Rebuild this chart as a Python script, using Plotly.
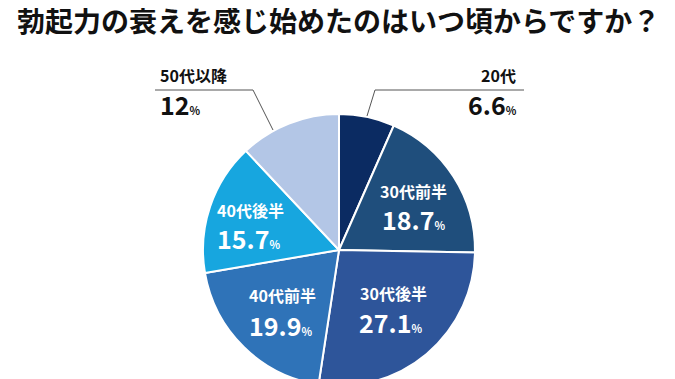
import plotly.graph_objects as go

title_text = "勃起力の衰えを感じ始めたのはいつ頃からですか？"
labels = ["20代", "30代前半", "30代後半", "40代前半", "40代後半", "50代以降"]
values = [6.6, 18.7, 27.1, 19.9, 15.7, 12]
value_text = ["6.6", "18.7", "27.1", "19.9", "15.7", "12"]
colors = ["#0b2b62", "#1f4e7c", "#2e559a", "#2f73b8", "#17a6df", "#b3c6e6"]

# page body has an 8px margin; work in viewport pixels and shift
OFF = 8
W, H = 667, 380
FONT = "Noto Sans CJK JP"

cx, cy, r = 339, 250, 136


def px(x):
    return (x - OFF) / W


def py(y):
    return 1 - (y - OFF) / H


fig = go.Figure()
fig.add_trace(go.Pie(
    labels=labels,
    values=values,
    sort=False,
    direction="clockwise",
    rotation=0,
    marker=dict(colors=colors, line=dict(color="white", width=2)),
    textinfo="none",
    hoverinfo="label+value",
    showlegend=False,
    domain=dict(x=[px(cx - r), px(cx + r)], y=[py(cy + r), py(cy - r)]),
))

annotations = []
annotations.append(dict(
    x=px(338), y=py(20), xref="paper", yref="paper", text="<b>" + title_text + "</b>",
    showarrow=False, xanchor="center", yanchor="middle",
    font=dict(family=FONT, size=28, color="#111111"),
))

pos = [
    (518, 75, 519, 104, "right", "#111111"),
    (413, 191, 413, 219, "center", "white"),
    (393, 293, 390, 322, "center", "white"),
    (282, 295, 280, 325, "center", "white"),
    (250, 210, 248, 238, "center", "white"),
    (158, 75, 158, 104, "left", "#111111"),
]
for lab, vt, (lx, ly, vx, vy, anc, col) in zip(labels, value_text, pos):
    annotations.append(dict(
        x=px(lx), y=py(ly), xref="paper", yref="paper", text="<b>" + lab + "</b>",
        showarrow=False, xanchor=anc, yanchor="middle",
        font=dict(family=FONT, size=16, color=col),
    ))
    annotations.append(dict(
        x=px(vx), y=py(vy), xref="paper", yref="paper",
        text="<b>" + vt + "</b><b><span style='font-size:11px'>%</span></b>",
        showarrow=False, xanchor=anc, yanchor="middle",
        font=dict(family=FONT, size=25, color=col),
    ))

line_style = dict(color="#555555", width=1)
shapes = [
    dict(type="line", xref="paper", yref="paper", x0=px(375), y0=py(90), x1=px(524), y1=py(90), line=line_style),
    dict(type="line", xref="paper", yref="paper", x0=px(375), y0=py(90), x1=px(367), y1=py(116), line=line_style),
    dict(type="line", xref="paper", yref="paper", x0=px(155), y0=py(90), x1=px(253), y1=py(90), line=line_style),
    dict(type="line", xref="paper", yref="paper", x0=px(253), y0=py(90), x1=px(273), y1=py(130), line=line_style),
]

fig.update_layout(
    width=W, height=H,
    margin=dict(l=0, r=0, t=0, b=0),
    paper_bgcolor="white", plot_bgcolor="white",
    annotations=annotations, shapes=shapes,
    showlegend=False,
)

fig.write_html("out.html")
